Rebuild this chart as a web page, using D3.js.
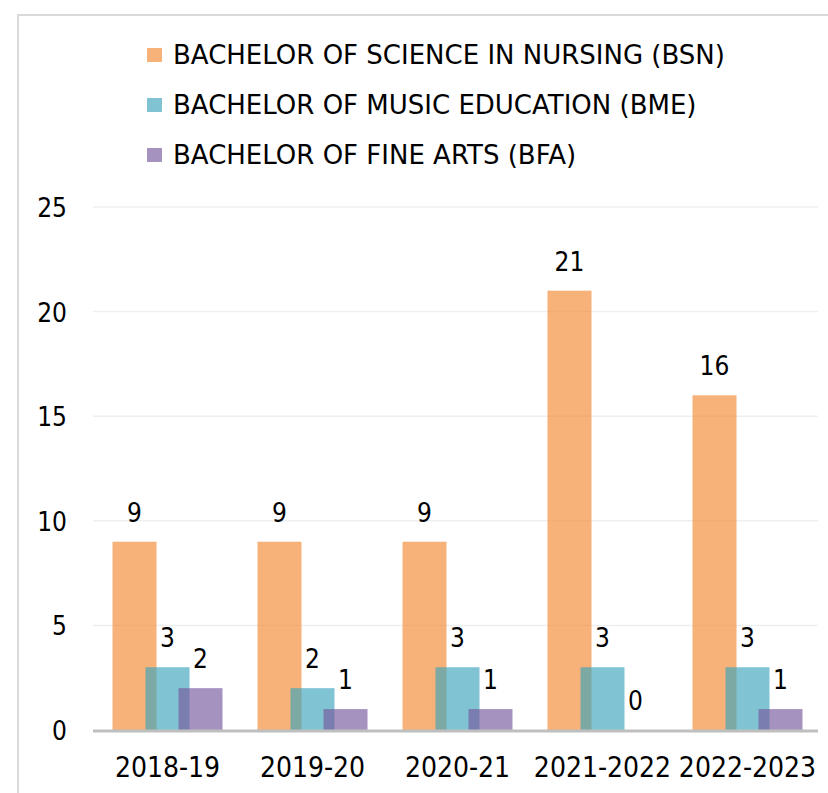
<!DOCTYPE html>
<html>
<head>
<meta charset="utf-8">
<script src="https://cdn.jsdelivr.net/npm/d3@7"></script>
<style>
  body { margin: 0; background: #fff; }
  text { font-family: "DejaVu Sans Condensed", "DejaVu Sans", sans-serif; fill: #000; }
</style>
</head>
<body>
<div id="vis"></div>
<script>
var years = ['2018-19', '2019-20', '2020-21', '2021-2022', '2022-2023'];
var programs = ['BACHELOR OF SCIENCE IN NURSING (BSN)', 'BACHELOR OF MUSIC EDUCATION (BME)', 'BACHELOR OF FINE ARTS (BFA)'];
var bsn = [9, 9, 9, 21, 16];
var bme = [3, 2, 3, 3, 3];
var bfa = [2, 1, 1, 0, 1];
var colors = ['#f38932', '#3ca4bb', '#76579d'];
var yTicks = [0, 5, 10, 15, 20, 25];

var width = 828, height = 793;
var seriesValues = [bsn, bme, bfa];

var svg = d3.select('#vis').append('svg')
  .attr('width', width)
  .attr('height', height);

// outer frame (left + top edges visible)
svg.append('path')
  .attr('d', 'M18,' + height + 'V15H' + width)
  .attr('fill', 'none')
  .attr('stroke', '#d9d9d9')
  .attr('stroke-width', 2);

var x = d3.scaleBand().domain(years).range([95, 820]);
var y = d3.scaleLinear().domain([0, 25]).range([730, 207]);

var barW = 44, barStep = 33;

// gridlines
svg.selectAll('.grid').data(yTicks.slice(1)).enter().append('line')
  .attr('x1', 93).attr('x2', 818)
  .attr('y1', function (d) { return y(d); })
  .attr('y2', function (d) { return y(d); })
  .attr('stroke', '#efefef')
  .attr('stroke-width', 1.5);

// y labels
svg.selectAll('.ylab').data(yTicks).enter().append('text')
  .attr('x', 67)
  .attr('y', function (d) { return y(d) + 10; })
  .attr('text-anchor', 'end')
  .attr('font-size', 26)
  .text(function (d) { return d; });

// bars
seriesValues.forEach(function (vals, s) {
  svg.selectAll('.bar' + s).data(vals).enter().append('rect')
    .attr('x', function (d, i) { return x(years[i]) + x.bandwidth() / 2 - barW / 2 + (s - 1) * barStep; })
    .attr('y', function (d) { return y(d); })
    .attr('width', barW)
    .attr('height', function (d) { return y(0) - y(d); })
    .attr('fill', colors[s])
    .attr('fill-opacity', 0.65);

  svg.selectAll('.lab' + s).data(vals).enter().append('text')
    .attr('x', function (d, i) { return x(years[i]) + x.bandwidth() / 2 + (s - 1) * barStep; })
    .attr('y', function (d) { return y(d) - 20; })
    .attr('text-anchor', 'middle')
    .attr('font-size', 26)
    .text(function (d) { return d; });
});

// x axis baseline
svg.append('line')
  .attr('x1', 93).attr('x2', 818)
  .attr('y1', y(0) + 1).attr('y2', y(0) + 1)
  .attr('stroke', '#bfbfbf')
  .attr('stroke-width', 3);

// x labels
svg.selectAll('.xlab').data(years).enter().append('text')
  .attr('x', function (d) { return x(d) + x.bandwidth() / 2; })
  .attr('y', 777)
  .attr('text-anchor', 'middle')
  .attr('font-size', 28)
  .text(function (d) { return d; });

// legend
var legend = svg.selectAll('.legend').data(programs).enter().append('g')
  .attr('transform', function (d, i) { return 'translate(147,' + (55 + i * 50) + ')'; });

legend.append('rect')
  .attr('x', 0).attr('y', -7)
  .attr('width', 15).attr('height', 14)
  .attr('fill', function (d, i) { return colors[i]; })
  .attr('fill-opacity', 0.65);

legend.append('text')
  .attr('x', 26).attr('y', 9)
  .attr('font-size', 26)
  .style('font-family', '"DejaVu Sans", sans-serif')
  .text(function (d) { return d; });
</script>
</body>
</html>
